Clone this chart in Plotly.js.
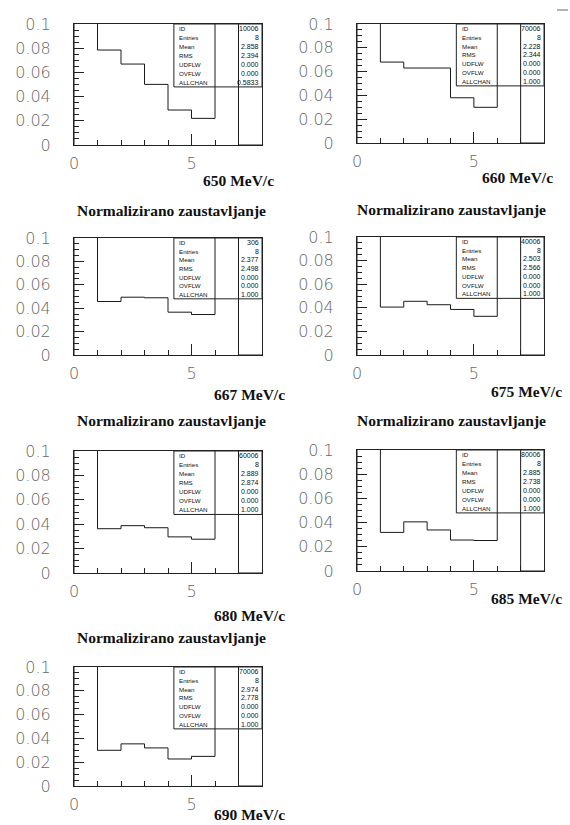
<!DOCTYPE html>
<html><head><meta charset="utf-8">
<script src="https://cdn.plot.ly/plotly-3.0.1.min.js"></script>
<style>html,body{margin:0;padding:0;background:#fff;} #chart{width:570px;height:825px;}</style>
</head><body><div id="chart"></div>
<script>
// ---- data ----
const momentumLabels = ["650 MeV/c","660 MeV/c","667 MeV/c","675 MeV/c","680 MeV/c","685 MeV/c","690 MeV/c"];
const binEdges = [0,1,2,3,4,5,6,7,8];
const OFF = 0.15; // bins that run off the top of the scale
const h650 = [OFF, 0.0785, 0.0669, 0.0501, 0.0289, 0.0220, OFF, 0];
const h660 = [OFF, 0.0680, 0.0630, 0.0630, 0.0380, 0.0300, OFF, 0];
const h667 = [OFF, 0.0457, 0.0494, 0.0489, 0.0366, 0.0346, OFF, 0];
const h675 = [OFF, 0.0406, 0.0455, 0.0426, 0.0386, 0.0328, OFF, 0];
const h680 = [OFF, 0.0363, 0.0388, 0.0371, 0.0296, 0.0277, OFF, 0];
const h685 = [OFF, 0.0319, 0.0406, 0.0339, 0.0256, 0.0252, OFF, 0];
const h690 = [OFF, 0.0300, 0.0354, 0.0320, 0.0227, 0.0249, OFF, 0];
const statNames = ["ID","Entries","Mean","RMS","UDFLW","OVFLW","ALLCHAN"];
const stat650 = ["10006","8","2.858","2.394","0.000","0.000","0.5833"];
const stat660 = ["70006","8","2.228","2.344","0.000","0.000","1.000"];
const stat667 = ["306","8","2.377","2.498","0.000","0.000","1.000"];
const stat675 = ["40006","8","2.503","2.566","0.000","0.000","1.000"];
const stat680 = ["60006","8","2.889","2.874","0.000","0.000","1.000"];
const stat685 = ["80006","8","2.885","2.738","0.000","0.000","1.000"];
const stat690 = ["70006","8","2.974","2.778","0.000","0.000","1.000"];
const yTickVals = [0, 0.02, 0.04, 0.06, 0.08, 0.1];
const yTickText = ["0","0.02","0.04","0.06","0.08","0.1"];
const xTickVals = [0, 5];
const xTickText = ["0","5"];
const titleText = "Normalizirano zaustavljanje";

const hists = [h650,h660,h667,h675,h680,h685,h690];
const stats = [stat650,stat660,stat667,stat675,stat680,stat685,stat690];

// ---- layout (pixels on a 570x825 page) ----
const W = 570, H = 825;
const panels = [
  {l:74, r:262, t:24,  b:145, lab:[276,181], title:null},
  {l:357,r:544, t:24,  b:143, lab:[555,177], title:null},
  {l:74, r:262, t:238, b:355, lab:[287,394], title:[75,211]},
  {l:357,r:544, t:237, b:355, lab:[564,392], title:[355,210]},
  {l:74, r:262, t:451, b:573, lab:[287,615], title:[75,421]},
  {l:357,r:544, t:450, b:571, lab:[564,598], title:[355,421]},
  {l:74, r:262, t:667, b:786, lab:[287,814], title:[75,637]}
];
const boxX0 = 4.25, boxY0 = 0.048;
const tickFont = {family:"DejaVu Sans, sans-serif", size:16, color:"#666", weight:200};
const serifBold = {family:"Liberation Serif, Times New Roman, serif", size:15.5, color:"#111", weight:"bold"};

const traces = [], annotations = [], shapes = [];
const layout = {width:W, height:H, margin:{l:0,r:0,t:0,b:0}, paper_bgcolor:"#fff", plot_bgcolor:"rgba(0,0,0,0)", showlegend:false};

panels.forEach((p, i) => {
  const k = i + 1;
  const xa = "x" + (k === 1 ? "" : k), ya = "y" + (k === 1 ? "" : k);
  const xKey = "xaxis" + (k === 1 ? "" : k), yKey = "yaxis" + (k === 1 ? "" : k);
  const vals = hists[i];
  traces.push({
    type:"scatter", mode:"lines", xaxis:xa, yaxis:ya,
    x:[binEdges[0]].concat(binEdges), y:[0].concat(vals, [0]),
    line:{shape:"hv", color:"#1a1a1a", width:1}, hoverinfo:"skip"
  });
  layout[xKey] = {
    domain:[p.l/W, p.r/W], anchor:ya, range:[0,8], showgrid:false, zeroline:false,
    showline:true, mirror:true, linecolor:"#222", linewidth:1,
    tickmode:"array", tickvals:xTickVals, ticktext:xTickText,
    ticks:"inside", ticklen:11, tickcolor:"#222", tickwidth:1,
    minor:{tickmode:"linear", tick0:0, dtick:1, ticks:"inside", ticklen:5, tickcolor:"#222"},
    tickfont:tickFont, ticklabelstandoff:4, fixedrange:true
  };
  layout[yKey] = {
    domain:[1 - p.b/H, 1 - p.t/H], anchor:xa, range:[0,0.1], showgrid:false, zeroline:false,
    showline:true, mirror:true, linecolor:"#222", linewidth:1,
    tickmode:"array", tickvals:yTickVals, ticktext:yTickText,
    ticks:"inside", ticklen:10, tickcolor:"#222", tickwidth:1,
    minor:{tickmode:"linear", tick0:0, dtick:0.005, ticks:"inside", ticklen:5, tickcolor:"#222"},
    tickfont:tickFont, ticklabelstandoff:19, fixedrange:true
  };
  // statistics box
  shapes.push({type:"rect", xref:xa, yref:ya, x0:boxX0, x1:8, y0:boxY0, y1:0.1, line:{color:"#222", width:1}, fillcolor:"rgba(0,0,0,0)"});
  const rowH = (0.1 - boxY0) / statNames.length;
  statNames.forEach((nm, j) => {
    const yy = 0.1 - (j + 0.5) * rowH;
    annotations.push({xref:xa, yref:ya, x:boxX0 + 0.15, y:yy, text:nm, showarrow:false, xanchor:"left", yanchor:"middle",
      font:{family:"Liberation Sans, Arial, sans-serif", size:6.2, color:"#111"}});
    annotations.push({xref:xa, yref:ya, x:7.97, y:yy, text:stats[i][j], showarrow:false, xanchor:"right", yanchor:"middle",
      font:{family:"Liberation Sans, Arial, sans-serif", size:7, color:"#111"}});
  });
  // momentum label
  annotations.push({xref:"paper", yref:"paper", x:p.lab[0]/W, y:1 - p.lab[1]/H, text:momentumLabels[i], showarrow:false,
    xanchor:"right", yanchor:"middle", font:serifBold});
  if (p.title) {
    annotations.push({xref:"paper", yref:"paper", x:p.title[0]/W, y:1 - p.title[1]/H, text:titleText, showarrow:false,
      xanchor:"left", yanchor:"middle", font:serifBold});
  }
});
// small stray dash at the top right of the page
shapes.push({type:"line", xref:"paper", yref:"paper", x0:557/W, x1:568/W, y0:1-10/H, y1:1-10/H, line:{color:"#666", width:1}});

layout.annotations = annotations;
layout.shapes = shapes;
Plotly.newPlot("chart", traces, layout, {displayModeBar:false, staticPlot:true});
</script>
</body></html>
